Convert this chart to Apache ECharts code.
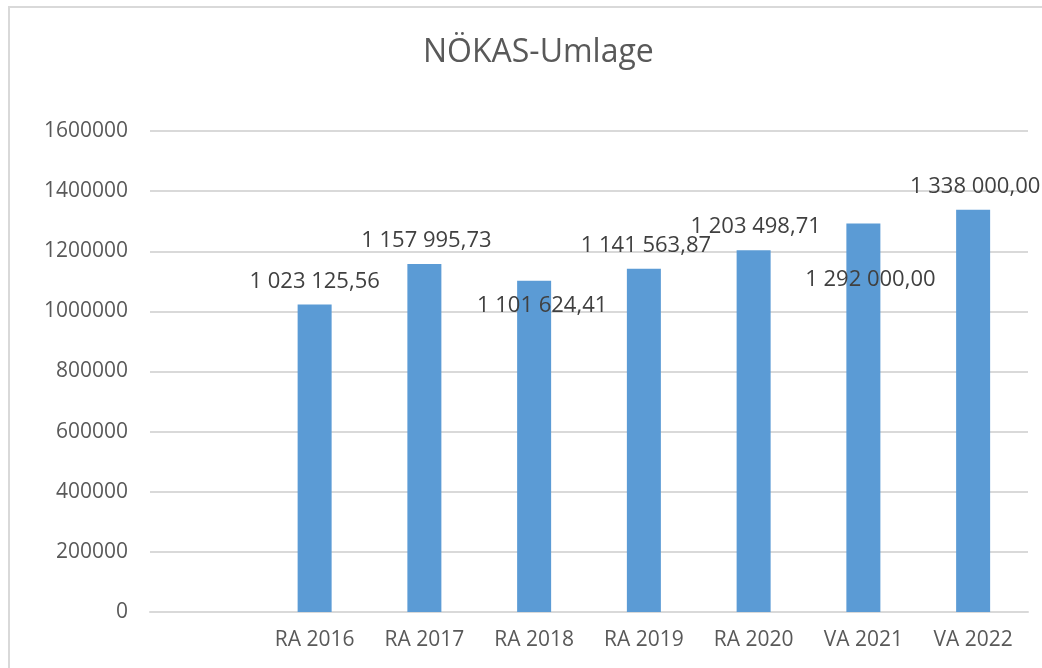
<!DOCTYPE html>
<html>
<head>
<meta charset="utf-8">
<script src="https://cdn.jsdelivr.net/npm/echarts@6/dist/echarts.min.js"></script>
<style>
  html, body { margin: 0; padding: 0; background: #fff; overflow: hidden; }
  #frame {
    position: absolute; left: 8px; top: 6px; width: 1100px; height: 700px;
    border: 2px solid #d9d9d9; box-sizing: border-box;
  }
  #chart { position: absolute; left: 0; top: 0; width: 1042px; height: 668px; }
</style>
</head>
<body>
<div id="frame"></div>
<div id="chart"></div>
<script>
// Kategorien (erste Kategorie leer, wie im Original)
const categories = ['', 'RA 2016', 'RA 2017', 'RA 2018', 'RA 2019', 'RA 2020', 'VA 2021', 'VA 2022']
const values = [null, 1023125.56, 1157995.73, 1101624.41, 1141563.87, 1203498.71, 1292000.00, 1338000.00]
const yTicks = [0, 200000, 400000, 600000, 800000, 1000000, 1200000, 1400000, 1600000]

// Beschriftungsversatz pro Balken (Excel-Platzierung nachgebildet)
const labelOffsets = [null, [0, 0], [2, 0], [8, 48], [2, 0], [2, 0], [7, 79], [2, 0]]

const fmt = v => {
  const [int, dec] = v.toFixed(2).split('.')
  return int.replace(/\B(?=(\d{3})+(?!\d))/g, ' ') + ',' + dec
}

const chart = echarts.init(document.getElementById('chart'))

const option = {
  animation: false,
  textStyle: { fontFamily: 'Open Sans' },
  title: {
    text: 'NÖKAS-Umlage',
    left: 418,
    top: 32,
    textStyle: { fontSize: 32, fontWeight: 'normal', color: '#595959', fontFamily: 'Open Sans' }
  },
  grid: { left: 150, right: 14, top: 131, bottom: 56 },
  xAxis: {
    type: 'category',
    data: categories,
    axisLine: { lineStyle: { color: '#d9d9d9', width: 2 } },
    axisTick: { show: false },
    axisLabel: { color: '#595959', fontSize: 21, margin: 18, interval: 0 }
  },
  yAxis: {
    type: 'value',
    min: yTicks[0],
    max: yTicks[yTicks.length - 1],
    interval: 200000,
    axisLine: { show: false },
    axisTick: { show: false },
    axisLabel: { color: '#595959', fontSize: 21, margin: 22, formatter: v => String(v) },
    splitLine: { lineStyle: { color: '#d9d9d9', width: 2 } }
  },
  series: [{
    type: 'bar',
    barWidth: 34,
    data: values.map((v, i) => {
      if (v === null) return '-'
      const off = labelOffsets[i]
      return { value: v, label: { offset: off } }
    }),
    itemStyle: { color: '#5b9bd5' },
    label: {
      show: true,
      position: 'top',
      distance: 12,
      fontSize: 22,
      color: '#404040',
      formatter: p => fmt(p.value)
    }
  }]
}

chart.setOption(option)
</script>
</body>
</html>
